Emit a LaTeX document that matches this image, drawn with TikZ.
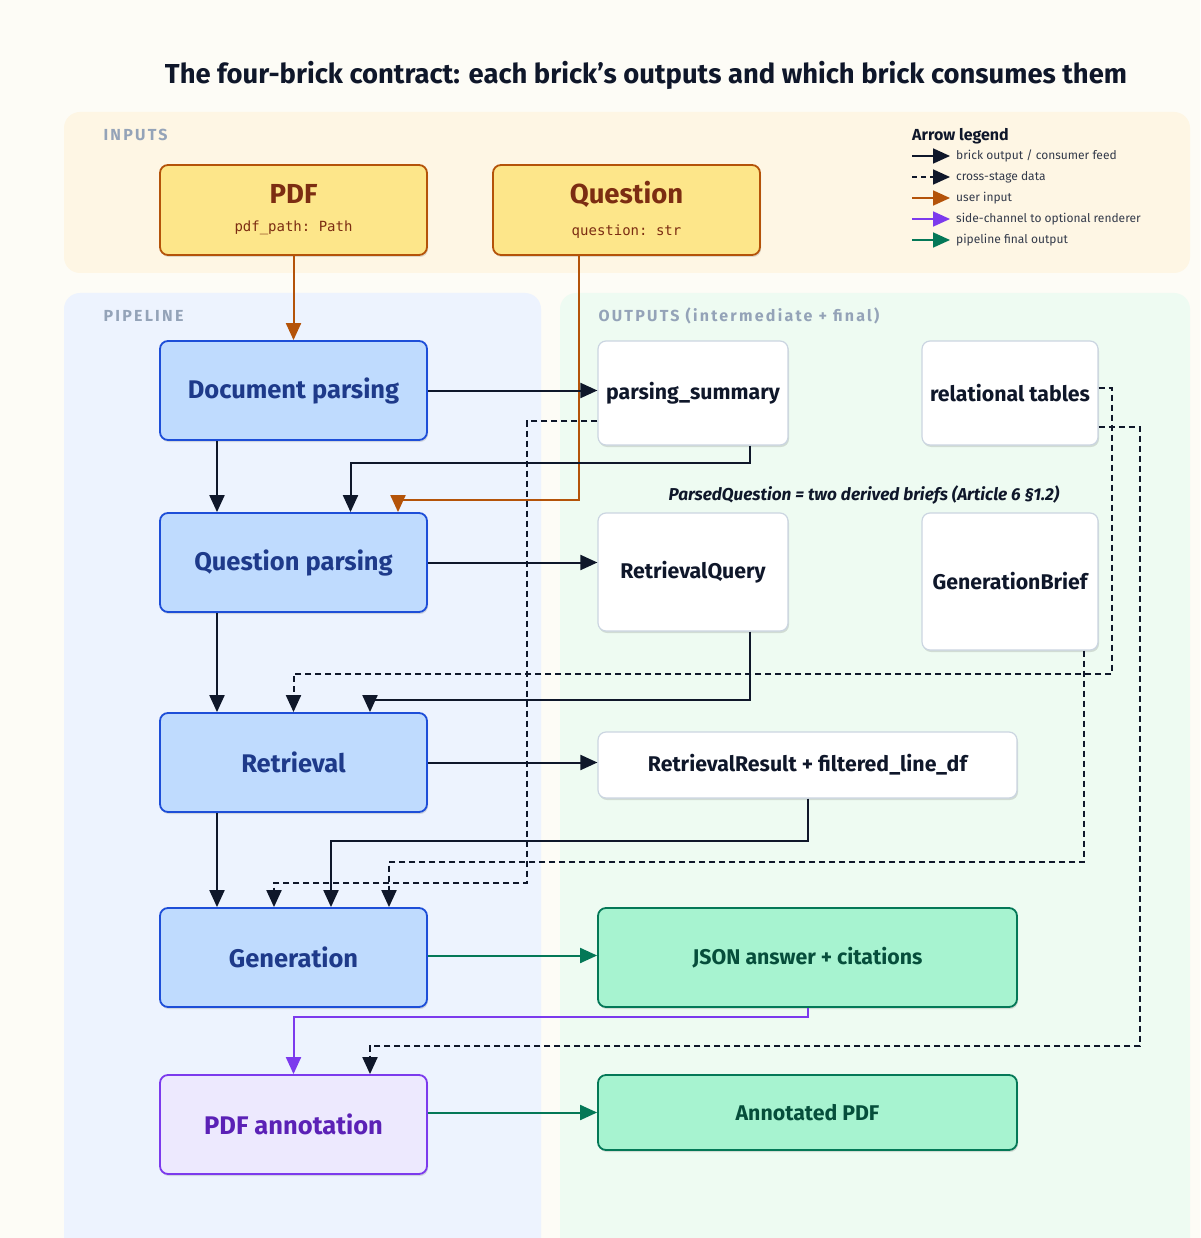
\documentclass[tikz,border=0pt]{standalone}
\usepackage{fontspec}
\setmainfont{Fira Sans}
\setmonofont{DejaVu Sans Mono}
\usetikzlibrary{arrows.meta,shadows}
\definecolor{pagebg}{HTML}{FDFCF6}
\definecolor{inbg}{HTML}{FEF6E4}
\definecolor{pipebg}{HTML}{EDF3FE}
\definecolor{outbg}{HTML}{EEFBF2}
\definecolor{panellbl}{HTML}{94A3B8}
\definecolor{ink}{HTML}{0F172A}
\definecolor{brownc}{HTML}{B45309}
\definecolor{browntxt}{HTML}{7C2D12}
\definecolor{inyellow}{HTML}{FDE68A}
\definecolor{bluefill}{HTML}{BFDBFE}
\definecolor{blueline}{HTML}{1D4ED8}
\definecolor{bluetxt}{HTML}{1E3A8A}
\definecolor{purplec}{HTML}{7C3AED}
\definecolor{purplefill}{HTML}{EDE9FE}
\definecolor{purpletxt}{HTML}{5B21B6}
\definecolor{greenc}{HTML}{047857}
\definecolor{greenfill}{HTML}{A7F3D0}
\definecolor{greentxt}{HTML}{064E3B}
\definecolor{outline}{HTML}{CBD5E1}
\begin{document}
\begin{tikzpicture}[x=1pt,y=-1pt,
  shad/.style={drop shadow={shadow xshift=1pt,shadow yshift=-2pt,opacity=0.12,fill=black}},
  inbox/.style={shad,draw=brownc,fill=inyellow,line width=1.8pt,rounded corners=8pt,minimum width=267pt,minimum height=90pt,align=center,text=browntxt},
  brick/.style={shad,draw=blueline,fill=bluefill,line width=1.8pt,rounded corners=8pt,minimum width=267pt,minimum height=99pt,align=center,text=bluetxt,font=\fontsize{25.5}{30}\selectfont\bfseries},
  annot/.style={brick,draw=purplec,fill=purplefill,text=purpletxt},
  outbox/.style={shad,draw=outline,fill=white,line width=1.2pt,rounded corners=8pt,align=center,text=ink,font=\fontsize{21.3}{25}\selectfont\bfseries,inner sep=0pt},
  finalbox/.style={outbox,draw=greenc,fill=greenfill,line width=1.8pt,text=greentxt},
  panellabel/.style={anchor=west,text=panellbl,font=\fontsize{16}{19}\selectfont\bfseries\addfontfeature{LetterSpace=14}},
  tip/.style={-{Triangle[length=17pt,width=15pt]}},
  dk/.style={tip,draw=ink,line width=2pt},
  dsh/.style={tip,draw=ink,line width=2pt,dash pattern=on 6pt off 4pt},
  br/.style={tip,draw=brownc,line width=2pt},
  pu/.style={tip,draw=purplec,line width=2pt},
  gr/.style={tip,draw=greenc,line width=2pt},
  legtxt/.style={anchor=west,text=ink!85,font=\fontsize{12}{14}\selectfont,inner sep=0pt}
]
\clip (0,0) rectangle (1200,1238);
\fill[pagebg] (0,0) rectangle (1200,1238);

% panels
\fill[inbg,rounded corners=16pt] (64,112) rectangle (1190,273);
\fill[pipebg,rounded corners=16pt] (64,293) rectangle (541,1270);
\fill[outbg,rounded corners=16pt] (560,293) rectangle (1190,1270);
\node[panellabel] (lin) at (100,135) {INPUTS};
\node[panellabel] (lpipe) at (100,316) {PIPELINE};
\node[panellabel] (lout) at (595,316) {OUTPUTS (intermediate + final)};

% title
\node[text=ink,font=\fontsize{27.4}{32}\selectfont\bfseries] (title) at (646,75) {The four-brick contract: each brick's outputs and which brick consumes them};

% legend
\node[anchor=west,text=ink,font=\fontsize{16}{18}\selectfont\bfseries,inner sep=0pt] (legt) at (912,136) {Arrow legend};
\draw[dk,line width=1.8pt] (912,156) -- (950,156);
\draw[dsh,line width=1.8pt,dash pattern=on 5pt off 4pt] (912,177) -- (950,177);
\draw[br,line width=1.8pt] (912,198) -- (950,198);
\draw[pu,line width=1.8pt] (912,219) -- (950,219);
\draw[gr,line width=1.8pt] (912,240) -- (950,240);
\node[legtxt] (l1) at (956,156) {brick output / consumer feed};
\node[legtxt] (l2) at (956,177) {cross-stage data};
\node[legtxt] (l3) at (956,198) {user input};
\node[legtxt] (l4) at (956,219) {side-channel to optional renderer};
\node[legtxt] (l5) at (956,240) {pipeline final output};

% inputs
\node[inbox] (pdf) at (293.5,210) {{\fontsize{27.5}{31}\selectfont\bfseries PDF}\\[16pt]{\ttfamily\fontsize{14}{16}\selectfont pdf\_path: Path}};
\node[inbox] (q) at (626.5,210) {{\fontsize{27.5}{31}\selectfont\bfseries Question}\\[16pt]{\ttfamily\fontsize{14}{16}\selectfont question: str}};

% bricks
\node[brick] (dp) at (293.5,390.5) {Document parsing};
\node[brick] (qp) at (293.5,562.5) {Question parsing};
\node[brick] (r) at (293.5,762.5) {Retrieval};
\node[brick] (g) at (293.5,957.5) {Generation};
\node[annot] (pa) at (293.5,1124.5) {PDF annotation};

% outputs
\node[outbox,minimum width=190pt,minimum height=104pt] (ps) at (693,393) {parsing\_summary};
\node[outbox,minimum width=176pt,minimum height=104pt] (rt) at (1010,393) {relational tables};
\node[outbox,minimum width=190pt,minimum height=118pt] (rq) at (693,572) {RetrievalQuery};
\node[outbox,minimum width=176pt,minimum height=137pt] (gb) at (1010,581.5) {GenerationBrief};
\node[outbox,minimum width=419pt,minimum height=66pt] (rr) at (807.5,765) {RetrievalResult + filtered\_line\_df};
\node[finalbox,minimum width=419pt,minimum height=99pt] (js) at (807.5,957.5) {JSON answer + citations};
\node[finalbox,minimum width=419pt,minimum height=75pt] (ap) at (807.5,1112.5) {Annotated PDF};

\node[text=ink,font=\fontsize{17.2}{20}\selectfont\bfseries\itshape] (pqlabel) at (864,495) {ParsedQuestion = two derived briefs (Article 6 §1.2)};

% connectors: dashed cross-stage
\draw[dsh] ([yshift=-28pt]ps.west) -| (527,883) -| ([xshift=-19.5pt]g.north);
\draw[dsh] ([yshift=5pt]rt.east) -| (1112,674) -| (r.north);
\draw[dsh] ([yshift=-34pt]rt.east) -| (1140,1046) -| ([xshift=76.5pt]pa.north);
\draw[dsh] ([xshift=74pt]gb.south) -- (1084,862) -| ([xshift=95.5pt]g.north);

% user input
\draw[br] (pdf.south) -- (dp.north);
\draw[br] ([xshift=-47.5pt]q.south) -- (579,500) -| ([xshift=104.5pt]qp.north);

% brick outputs / consumer feeds
\draw[dk] (dp.east) -- (dp.east -| ps.west);
\draw[dk] ([xshift=-76.5pt]dp.south) -- ([xshift=-76.5pt]qp.north);
\draw[dk] ([xshift=57pt]ps.south) -- (750,463) -| ([xshift=57pt]qp.north);
\draw[dk] (qp.east) -- (qp.east -| rq.west);
\draw[dk] ([xshift=-76.5pt]qp.south) -- ([xshift=-76.5pt]r.north);
\draw[dk] ([xshift=57pt]rq.south) -- (750,700) -| ([xshift=76.5pt]r.north);
\draw[dk] (r.east) -- (r.east -| rr.west);
\draw[dk] ([xshift=-76.5pt]r.south) -- ([xshift=-76.5pt]g.north);
\draw[dk] (rr.south) -- (807.5,841) -| ([xshift=37.5pt]g.north);

% final / side channel
\draw[gr] ([yshift=2pt]g.east) -- ([yshift=2pt]g.east -| js.west);
\draw[pu] (js.south) -- (807.5,1017) -| (pa.north);
\draw[gr] (pa.east |- ap.west) -- (ap.west);
\end{tikzpicture}
\end{document}
